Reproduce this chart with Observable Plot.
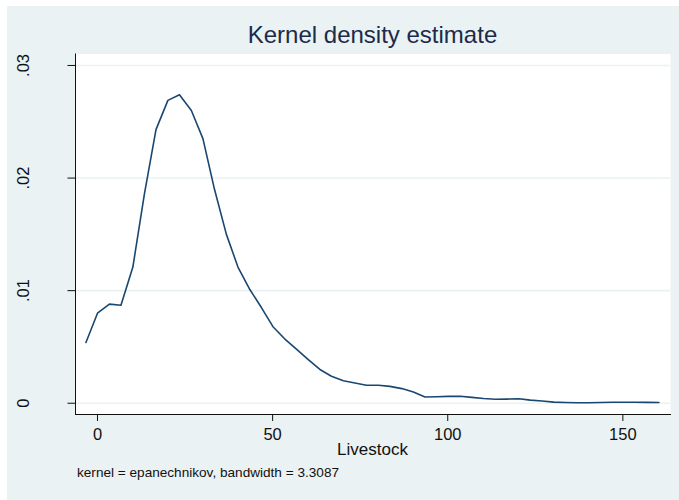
<!DOCTYPE html>
<html>
<head>
<meta charset="utf-8">
<script src="https://cdn.jsdelivr.net/npm/d3@7"></script>
<script src="https://cdn.jsdelivr.net/npm/@observablehq/plot@0.6"></script>
<style>
  html, body { margin: 0; padding: 0; background: #ffffff; }
  #fig { position: relative; width: 679px; height: 500px; background: #ffffff; overflow: hidden;
         font-family: "Liberation Sans", Arial, Helvetica, sans-serif; }
  #panel { position: absolute; left: 7px; top: 6px; right: 0; bottom: 0; background: #eaf2f3; }
  #title { position: absolute; left: 75px; width: 595px; top: 21px; text-align: center;
           font-size: 24px; color: #1c2b4a; line-height: 28px; white-space: nowrap; }
  #chart { position: absolute; left: 0; top: 0; }
  #xtitle { position: absolute; left: 75px; width: 595px; top: 440px; text-align: center;
            font-size: 17px; color: #111; line-height: 20px; }
  #note { position: absolute; left: 77px; top: 465px; font-size: 13.6px; color: #111; line-height: 16px;
          white-space: nowrap; }
</style>
</head>
<body>
<div id="fig">
  <div id="panel"></div>
  <div id="chart"></div>
  <div id="title">Kernel density estimate</div>
  <div id="xtitle">Livestock</div>
  <div id="note">kernel = epanechnikov, bandwidth = 3.3087</div>
</div>
<script>
// Evaluation points of the density estimate (livestock count)
const livestock = [-3.3, 0.0, 3.4, 6.7, 10.1, 13.4, 16.7, 20.1, 23.4, 26.8,
  30.1, 33.4, 36.8, 40.1, 43.5, 46.8, 50.1, 53.5, 56.8, 60.1,
  63.5, 66.8, 70.2, 73.5, 76.8, 80.2, 83.5, 86.9, 90.2, 93.5,
  96.9, 100.2, 103.6, 106.9, 110.2, 113.6, 116.9, 120.3, 123.6, 126.9,
  130.3, 133.6, 136.9, 140.3, 143.6, 147.0, 150.3, 153.6, 157.0, 160.3];

// Estimated density at each point
const density = [0.0054, 0.0080, 0.0088, 0.0087, 0.0121, 0.0186, 0.0243, 0.0269, 0.0274, 0.0260,
  0.0235, 0.0190, 0.0150, 0.0121, 0.0101, 0.0085, 0.0068, 0.0057, 0.0048, 0.0039,
  0.0030, 0.0024, 0.0020, 0.0018, 0.0016, 0.0016, 0.0015, 0.0013, 0.0010, 0.00055,
  0.00058, 0.00061, 0.00062, 0.00052, 0.00042, 0.00035, 0.00037, 0.00040, 0.00028, 0.00020,
  0.00010, 0.00006, 0.00004, 0.00005, 0.00007, 0.00009, 0.00009, 0.00009, 0.00008, 0.00006];

const xTicks = [0, 50, 100, 150];
const yTicks = [0, 0.01, 0.02, 0.03];

const points = livestock.map((x, i) => ({x, y: density[i]}));

const bg = "#eaf2f3";
const fmtY = d => d === 0 ? "0" : d3.format(".2f")(d).replace(/^0/, "");

const chart = Plot.plot({
  width: 679,
  height: 500,
  marginLeft: 75,
  marginRight: 9,
  marginTop: 53.5,
  marginBottom: 86,
  style: {background: "transparent", fontFamily: "'Liberation Sans', Arial, sans-serif", color: "#111"},
  x: {domain: [-6.28, 163.6]},
  y: {domain: [-0.001, 0.03102]},
  marks: [
    Plot.frame({fill: "#ffffff", stroke: "none"}),
    Plot.gridY(yTicks, {stroke: bg, strokeOpacity: 1, strokeWidth: 1.6}),
    Plot.line(points, {x: "x", y: "y", stroke: "#1a476f", strokeWidth: 1.6}),
    Plot.frame({anchor: "left", stroke: "#111", strokeWidth: 1}),
    Plot.frame({anchor: "bottom", stroke: "#111", strokeWidth: 1}),
    Plot.axisY(yTicks, {
      tickSize: 7.5, tickPadding: 39, tickRotate: -90, fontSize: 16.5,
      tickFormat: fmtY, label: null, stroke: "#111"
    }),
    Plot.axisX(xTicks, {
      tickSize: 7, tickPadding: 7, fontSize: 16.5, label: null, stroke: "#111"
    })
  ]
});
document.getElementById("chart").appendChild(chart);
</script>
</body>
</html>
